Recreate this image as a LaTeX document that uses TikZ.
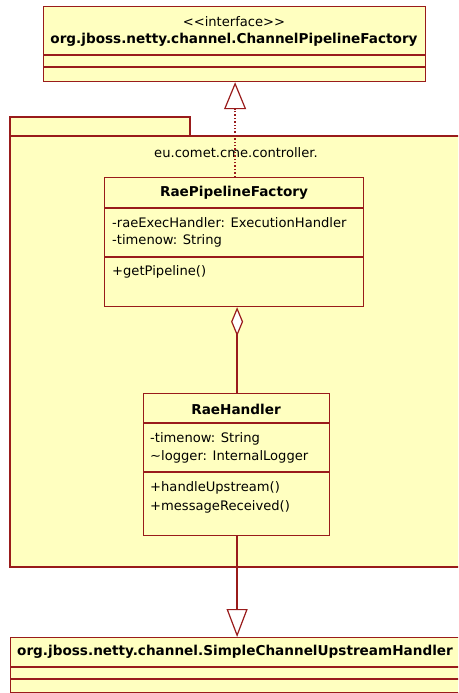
\documentclass[tikz,border=0pt]{standalone}
\usepackage{fontspec}
\setmainfont{DejaVu Sans}[Ligatures=TeXOff]
\usetikzlibrary{arrows.meta}
\definecolor{umlfill}{RGB}{255,255,192}
\definecolor{umlline}{RGB}{153,27,27}
\tikzset{
  box/.style={draw=umlline, fill=umlfill, line width=1.2pt},
  sep/.style={draw=umlline, line width=1.1pt},
  txt/.style={inner sep=0pt, font=\fontsize{13.1}{15}\selectfont},
  bold/.style={txt, font=\fontsize{13.6}{15}\selectfont\bfseries},
  lefttxt/.style={txt, anchor=west},
  link/.style={draw=umlline, line width=1.4pt},
  realize/.style={link, dotted, -{Triangle[open, length=27pt, width=22pt, fill=white, line width=1.2pt]}},
  inherit/.style={link, -{Triangle[open, length=28pt, width=21pt, fill=white, line width=1.2pt]}},
  aggr/.style={link, -{Diamond[open, length=29pt, width=12pt, fill=white, line width=1.2pt]}}
}
\begin{document}
\begin{tikzpicture}[x=1pt, y=-1pt]
\useasboundingbox (0,0) rectangle (458,693);
\clip (0,0) rectangle (458,693);

% package eu.comet.cme.controller. (runs on past the right edge)
\draw[box] (10,117) rectangle (190,136);
\draw[box] (10,136) rectangle (520,567);
\node[txt] (pkg) at (236,153) {eu.comet.cme.controller.};

% interface ChannelPipelineFactory
\node[box, minimum width=382pt, minimum height=75pt, inner sep=0pt, anchor=north west] (iface) at (43,6) {};
\draw[sep] (43,55) -- (425,55);
\draw[sep] (43,67) -- (425,67);
\node[txt] (ifacest) at (234,22) {<<interface>>};
\node[bold] (ifacename) at (234,40) {org.jboss.netty.channel.ChannelPipelineFactory};

% class RaePipelineFactory
\node[box, minimum width=259pt, minimum height=129pt, inner sep=0pt, anchor=north west] (factory) at (104,177) {};
\draw[sep] (104,208) -- (363,208);
\draw[sep] (104,257) -- (363,257);
\node[bold] (factoryname) at (234,193) {RaePipelineFactory};
\node[lefttxt] (fa1) at (112,223) {-raeExecHandler: ExecutionHandler};
\node[lefttxt] (fa2) at (112,241) {-timenow: String};
\node[lefttxt] (fo1) at (112,272) {+getPipeline()};

% class RaeHandler
\node[box, minimum width=186pt, minimum height=142pt, inner sep=0pt, anchor=north west] (handler) at (143,393) {};
\draw[sep] (143,423) -- (329,423);
\draw[sep] (143,472) -- (329,472);
\node[bold] (handlername) at (236,409) {RaeHandler};
\node[lefttxt] (ha1) at (150,439) {-timenow: String};
\node[lefttxt] (ha2) at (150,457) {\char"007Elogger: InternalLogger};
\node[lefttxt] (ho1) at (150,488) {+handleUpstream()};
\node[lefttxt] (ho2) at (150,507) {+messageReceived()};

% superclass SimpleChannelUpstreamHandler (runs on past the right edge)
\node[box, minimum width=510pt, minimum height=55pt, inner sep=0pt, anchor=north west] (upstream) at (10,637) {};
\draw[sep] (10,667) -- (520,667);
\draw[sep] (10,679) -- (520,679);
\node[bold, anchor=west] (upname) at (17,652) {org.jboss.netty.channel.SimpleChannelUpstreamHandler};

% relations, centred on whole pixels
\coordinate (rtop) at ([xshift=0.5pt]iface.south);
\coordinate (htop) at ([xshift=0.5pt]handler.north);
\coordinate (hbot) at ([xshift=0.5pt]handler.south);
\draw[realize] (factory.north -| rtop) -- (rtop);
\draw[aggr] (htop) -- (htop |- factory.south);
\draw[inherit] (hbot) -- (hbot |- upstream.north);
\end{tikzpicture}
\end{document}
